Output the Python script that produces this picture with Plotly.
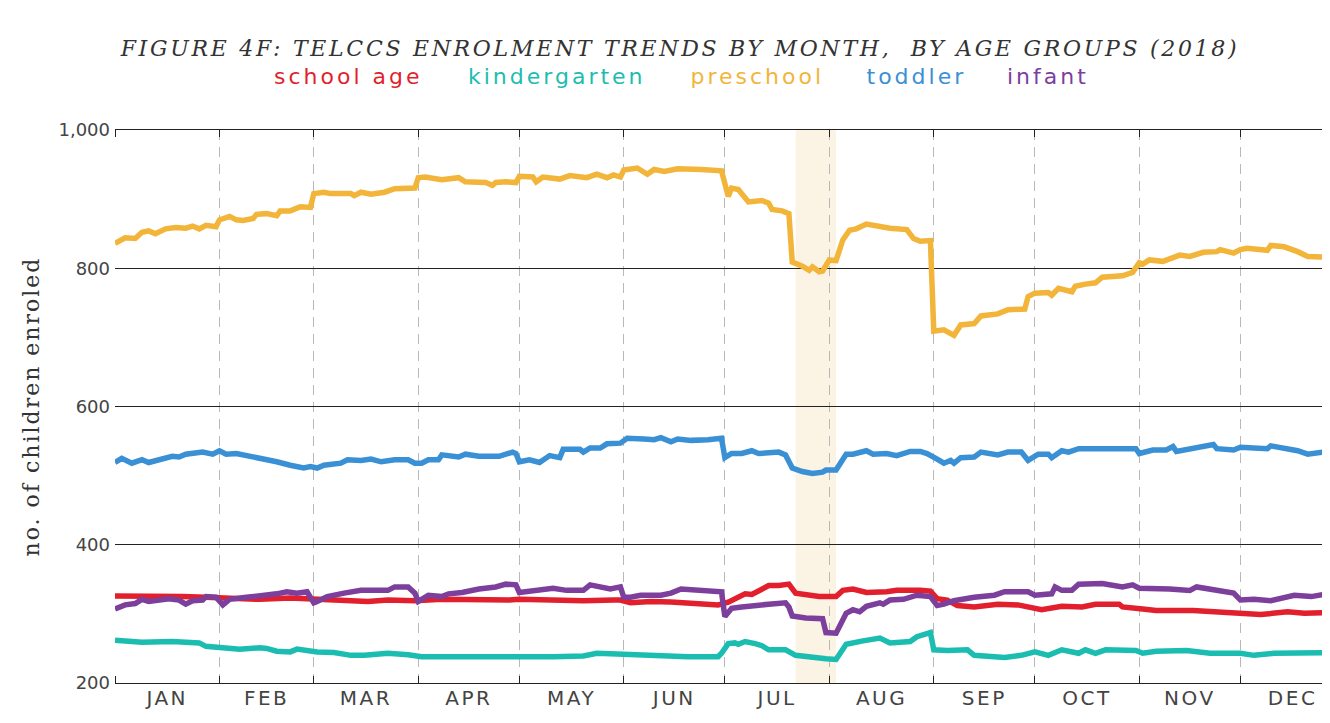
import plotly.graph_objects as go
from datetime import datetime

YEAR = "2018"

# 各年龄组每日在册人数（从原图读取，日期为 MM-DD）
school_age_dates = ["01-01", "01-07", "01-14", "01-21", "01-28", "02-06", "02-13", "02-22", "02-28",
                    "03-08", "03-15", "03-17", "03-23", "03-31", "04-08", "04-18", "04-28", "05-01",
                    "05-07", "05-15", "05-20", "05-29", "05-31", "06-03", "06-09", "06-15", "06-23",
                    "06-29", "07-02", "07-04", "07-07", "07-09", "07-11", "07-14", "07-17", "07-20",
                    "07-22", "07-26", "07-29", "08-03", "08-05", "08-08", "08-12", "08-18", "08-21",
                    "08-28", "08-31", "09-02", "09-05", "09-08", "09-13", "09-20", "09-26", "10-03",
                    "10-09", "10-15", "10-19", "10-26", "10-27", "11-02", "11-06", "11-17", "11-25",
                    "12-01", "12-07", "12-15", "12-20", "12-27"]
school_age_values = [326, 326, 325, 325, 324, 322, 321, 323, 322,
                     320, 320, 318, 320, 319, 321, 320, 320, 321,
                     320, 318, 319, 320, 320, 316, 318, 317, 314,
                     313, 317, 321, 329, 328, 334, 341, 341, 343,
                     330, 327, 325, 325, 334, 336, 331, 332, 334,
                     334, 333, 322, 320, 312, 310, 314, 313, 306,
                     311, 310, 314, 314, 310, 307, 305, 305, 302,
                     301, 299, 303, 301, 302]

kindergarten_dates = ["01-01", "01-05", "01-09", "01-18", "01-26", "01-28", "02-01", "02-07", "02-13",
                      "02-15", "02-18", "02-22", "02-24", "03-02", "03-07", "03-12", "03-16", "03-20",
                      "03-23", "03-29", "04-02", "04-08", "04-21", "04-23", "05-02", "05-11", "05-20",
                      "05-24", "05-30", "06-09", "06-20", "06-29", "06-30", "07-02", "07-04", "07-05",
                      "07-07", "07-10", "07-12", "07-14", "07-19", "07-22", "07-26", "07-31", "08-03",
                      "08-06", "08-11", "08-16", "08-19", "08-25", "08-27", "08-31", "09-01", "09-05",
                      "09-11", "09-13", "09-22", "09-27", "10-01", "10-05", "10-09", "10-14", "10-16",
                      "10-19", "10-22", "10-31", "11-02", "11-06", "11-15", "11-22", "12-01", "12-05",
                      "12-11", "12-27"]
kindergarten_values = [262, 261, 259, 260, 258, 253, 252, 249, 251,
                       250, 246, 245, 249, 245, 244, 240, 240, 242,
                       243, 241, 238, 238, 238, 237, 237, 238, 239,
                       243, 242, 240, 238, 238, 243, 257, 258, 256,
                       260, 257, 254, 248, 248, 240, 237, 235, 234,
                       256, 261, 265, 258, 260, 267, 273, 248, 247,
                       248, 240, 237, 240, 245, 240, 248, 243, 248,
                       243, 248, 247, 243, 246, 247, 243, 243, 240,
                       243, 244]

preschool_dates = ["01-01", "01-04", "01-07", "01-09", "01-11", "01-13", "01-16", "01-19", "01-22",
                   "01-24", "01-26", "01-28", "01-31", "02-01", "02-04", "02-06", "02-08", "02-11",
                   "02-12", "02-15", "02-18", "02-19", "02-22", "02-25", "02-28", "03-01", "03-04",
                   "03-06", "03-12", "03-13", "03-15", "03-18", "03-22", "03-25", "03-31", "04-01",
                   "04-03", "04-08", "04-13", "04-15", "04-21", "04-23", "04-24", "04-27", "04-30",
                   "05-01", "05-05", "05-06", "05-08", "05-11", "05-13", "05-16", "05-19", "05-21",
                   "05-24", "05-27", "05-29", "05-31", "06-01", "06-05", "06-08", "06-10", "06-13",
                   "06-17", "06-24", "06-27", "06-30", "07-02", "07-03", "07-05", "07-08", "07-12",
                   "07-14", "07-15", "07-18", "07-20", "07-21", "07-24", "07-26", "07-27", "07-29",
                   "07-30", "08-01", "08-03", "08-05", "08-07", "08-09", "08-12", "08-16", "08-19",
                   "08-24", "08-26", "08-28", "08-31", "09-01", "09-04", "09-07", "09-09", "09-13",
                   "09-15", "09-20", "09-23", "09-28", "09-29", "10-01", "10-05", "10-06", "10-08",
                   "10-12", "10-13", "10-16", "10-19", "10-21", "10-27", "10-30", "11-01", "11-02",
                   "11-04", "11-08", "11-13", "11-16", "11-20", "11-24", "11-25", "11-29", "12-01",
                   "12-03", "12-09", "12-10", "12-14", "12-18", "12-21", "12-27"]
preschool_values = [836, 844, 843, 852, 854, 850, 857, 859, 858,
                    861, 857, 862, 860, 870, 875, 870, 869, 872,
                    878, 879, 876, 883, 883, 889, 888, 908, 910,
                    908, 908, 905, 910, 907, 910, 915, 916, 931,
                    932, 928, 931, 925, 924, 920, 924, 925, 924,
                    933, 932, 925, 932, 930, 929, 934, 933, 931,
                    936, 931, 935, 932, 942, 945, 936, 943, 940,
                    944, 943, 942, 941, 904, 916, 914, 896, 898,
                    894, 885, 883, 879, 809, 803, 797, 802, 795,
                    796, 812, 811, 841, 855, 857, 864, 860, 858,
                    856, 843, 839, 840, 709, 711, 703, 718, 720,
                    731, 734, 740, 741, 759, 764, 765, 761, 771,
                    766, 774, 777, 779, 787, 789, 794, 808, 806,
                    812, 810, 819, 817, 823, 824, 827, 822, 827,
                    829, 826, 833, 831, 824, 817, 816]

toddler_dates = ["01-01", "01-03", "01-06", "01-09", "01-11", "01-15", "01-18", "01-20", "01-22",
                 "01-27", "01-30", "02-01", "02-03", "02-06", "02-10", "02-15", "02-18", "02-22",
                 "02-26", "02-28", "03-02", "03-04", "03-09", "03-11", "03-15", "03-18", "03-21",
                 "03-25", "03-29", "03-31", "04-02", "04-04", "04-07", "04-08", "04-13", "04-15",
                 "04-19", "04-25", "04-29", "04-30", "05-01", "05-04", "05-07", "05-10", "05-13",
                 "05-14", "05-19", "05-20", "05-22", "05-25", "05-27", "05-31", "06-01", "06-02",
                 "06-07", "06-10", "06-12", "06-15", "06-17", "06-21", "06-26", "06-30", "07-01",
                 "07-03", "07-06", "07-09", "07-11", "07-17", "07-19", "07-21", "07-24", "07-27",
                 "07-30", "07-31", "08-03", "08-06", "08-08", "08-12", "08-14", "08-18", "08-21",
                 "08-25", "08-28", "08-30", "09-02", "09-04", "09-06", "09-07", "09-09", "09-13",
                 "09-15", "09-18", "09-20", "09-23", "09-27", "09-29", "10-02", "10-05", "10-06",
                 "10-09", "10-11", "10-14", "10-19", "10-25", "10-31", "11-01", "11-05", "11-09",
                 "11-11", "11-12", "11-17", "11-21", "11-23", "11-24", "11-29", "12-01", "12-05",
                 "12-09", "12-10", "12-14", "12-18", "12-21", "12-24", "12-27"]
toddler_values = [519, 525, 518, 523, 519, 523, 528, 527, 531,
                  534, 531, 536, 531, 532, 528, 525, 520, 515,
                  511, 513, 511, 515, 518, 523, 522, 524, 520,
                  523, 523, 518, 518, 523, 523, 530, 527, 531,
                  528, 528, 534, 532, 520, 523, 519, 529, 526,
                  538, 538, 534, 540, 540, 546, 547, 551, 554,
                  553, 552, 555, 549, 553, 551, 552, 554, 526,
                  532, 532, 536, 532, 534, 530, 511, 506, 503,
                  505, 508, 508, 531, 531, 536, 531, 532, 529,
                  535, 535, 532, 524, 518, 522, 518, 526, 527,
                  534, 532, 530, 534, 534, 522, 531, 531, 526,
                  536, 534, 539, 539, 540, 539, 532, 537, 537,
                  542, 535, 540, 542, 545, 539, 537, 541, 540,
                  539, 543, 540, 536, 531, 534, 535]

infant_dates = ["01-01", "01-04", "01-07", "01-09", "01-11", "01-15", "01-17", "01-20", "01-22",
                "01-24", "01-27", "01-28", "01-31", "02-02", "02-04", "02-09", "02-15", "02-18",
                "02-21", "02-24", "02-27", "03-01", "03-02", "03-05", "03-10", "03-15", "03-19",
                "03-23", "03-25", "03-29", "03-31", "04-01", "04-04", "04-08", "04-10", "04-14",
                "04-19", "04-22", "04-24", "04-27", "04-30", "05-01", "05-07", "05-11", "05-15",
                "05-20", "05-22", "05-25", "05-28", "05-31", "06-01", "06-03", "06-06", "06-12",
                "06-15", "06-18", "06-23", "06-27", "06-30", "07-01", "07-03", "07-06", "07-09",
                "07-14", "07-19", "07-20", "07-21", "07-25", "07-30", "07-31", "08-03", "08-06",
                "08-08", "08-10", "08-12", "08-16", "08-17", "08-19", "08-23", "08-27", "08-31",
                "09-02", "09-04", "09-07", "09-13", "09-19", "09-22", "09-29", "10-01", "10-06",
                "10-07", "10-09", "10-12", "10-14", "10-21", "10-27", "10-30", "11-01", "11-10",
                "11-16", "11-18", "11-23", "11-29", "12-01", "12-05", "12-10", "12-17", "12-22",
                "12-27"]
infant_values = [307, 313, 315, 321, 318, 320, 322, 320, 314,
                 319, 320, 325, 324, 313, 321, 324, 326, 329,
                 332, 330, 332, 316, 318, 325, 330, 334, 334,
                 334, 339, 339, 330, 318, 327, 325, 329, 331,
                 336, 337, 339, 343, 342, 331, 334, 337, 334,
                 334, 342, 339, 336, 339, 324, 324, 327, 327,
                 330, 336, 334, 333, 332, 296, 308, 310, 312,
                 314, 316, 310, 297, 294, 293, 273, 272, 301,
                 306, 303, 311, 316, 314, 320, 321, 327, 325,
                 312, 314, 319, 324, 327, 332, 332, 327, 329,
                 339, 334, 334, 343, 344, 339, 342, 337, 336,
                 334, 339, 334, 330, 320, 321, 319, 327, 325,
                 329]

month_labels = ["JAN", "FEB", "MAR", "APR", "MAY", "JUN",
                "JUL", "AUG", "SEP", "OCT", "NOV", "DEC"]

series = [
    ("school age", school_age_dates, school_age_values, "#E21F2C"),
    ("kindergarten", kindergarten_dates, kindergarten_values, "#1CBDB1"),
    ("preschool", preschool_dates, preschool_values, "#F2B53A"),
    ("toddler", toddler_dates, toddler_values, "#3A90D5"),
    ("infant", infant_dates, infant_values, "#7C3F9C"),
]

fig = go.Figure()

# 7月下旬至8月初的高亮区间（网格线之下）
fig.add_vrect(x0=f"{YEAR}-07-22", x1=f"{YEAR}-08-03",
              fillcolor="#FBF3E4", line_width=0, layer="below")

for name, dates, values, color in series:
    fig.add_trace(go.Scatter(
        x=[f"{YEAR}-{d}" for d in dates],
        y=values,
        mode="lines",
        name=name,
        line=dict(color=color, width=5.5),
    ))

# 图例：彩色文字
legend_x = [0.1925, 0.364, 0.5297, 0.661, 0.769]
for (name, _, _, color), lx in zip(series, legend_x):
    fig.add_annotation(text=name, x=lx, y=1.096, xref="paper", yref="paper",
                       showarrow=False, xanchor="center", yanchor="middle",
                       font=dict(family="DejaVu Sans", size=22, color=color))

# 月份标签放在每月中点，月初用次刻度画虚线
y0 = int(YEAR)
month_starts = [datetime(y0, m, 1) for m in range(1, 13)] + [datetime(y0 + 1, 1, 1)]
month_mids = [a + (b - a) / 2 for a, b in zip(month_starts[:-1], month_starts[1:])]

# 页面 body 默认有 8px 外边距，尺寸相应缩小
fig.update_layout(
    width=1322, height=715,
    margin=dict(l=107, r=2, t=122, b=40),
    paper_bgcolor="white", plot_bgcolor="white",
    showlegend=False,
    title=dict(text="FIGURE 4F: TELCCS ENROLMENT TRENDS BY MONTH,  BY AGE GROUPS (2018)",
               x=0.5083, xanchor="center", y=0.944, yanchor="middle",
               font=dict(family="DejaVu Serif", size=22, color="#333333", style="italic")),
    xaxis=dict(
        type="date", range=[f"{YEAR}-01-01", f"{YEAR}-12-27"],
        tickmode="array", tickvals=month_mids, ticktext=month_labels,
        ticks="", showgrid=False,
        minor=dict(tick0=f"{YEAR}-01-01", dtick="M1",
                   ticks="inside", ticklen=7, tickwidth=1, tickcolor="#222222",
                   showgrid=True, gridcolor="#b8b8b8", gridwidth=1, griddash="10px,7px"),
        showline=True, linecolor="#222222", linewidth=1, mirror="ticks",
        zeroline=False, ticklabelstandoff=-3,
        tickfont=dict(family="DejaVu Sans", size=20, color="#444444"),
    ),
    yaxis=dict(
        range=[200, 1000], tickvals=[200, 400, 600, 800, 1000], tickformat=",",
        showgrid=True, gridcolor="#222222", gridwidth=1,
        zeroline=False, showline=False, ticks="", ticklabelstandoff=4,
        tickfont=dict(family="DejaVu Sans", size=18, color="#444444"),
        title=dict(text="no. of children enroled", standoff=12,
                   font=dict(family="DejaVu Serif", size=22, color="#333333")),
    ),
)

# Montserrat / Zilla Slab 的字距较宽，这里用字间距近似
spacing_js = """
function sp(sel, v){document.querySelectorAll(sel).forEach(function(t){t.style.letterSpacing=v;});}
sp('.gtitle', '2.7px');
sp('.annotation-text', '3px');
sp('.ytitle', '2px');
sp('.xtick text', '2.5px');
"""

fig.write_html("out.html", post_script=spacing_js)
